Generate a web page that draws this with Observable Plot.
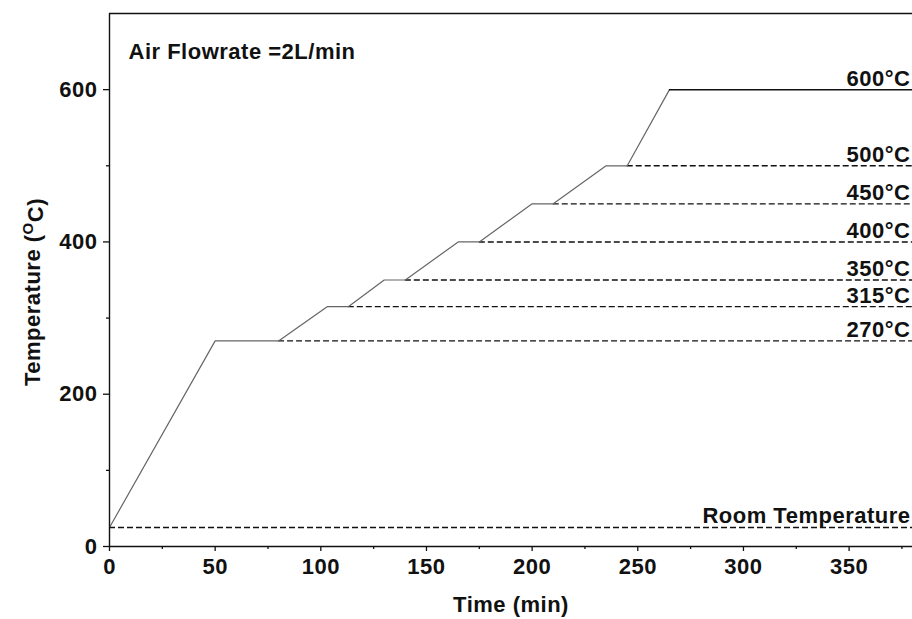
<!DOCTYPE html>
<html>
<head>
<meta charset="utf-8">
<script src="https://cdn.jsdelivr.net/npm/d3@7"></script>
<script src="https://cdn.jsdelivr.net/npm/@observablehq/plot@0.6"></script>
<style>
  body { margin: 0; background: #fff; }
  svg { display: block; }
</style>
</head>
<body>
<div id="chart"></div>
<script>
// Furnace temperature programme (air flowrate 2 L/min)
const profileTime = [0, 50, 80, 103, 113, 130, 140, 165, 175, 200, 210, 235, 245, 265];
const profileTemp = [25, 270, 270, 315, 315, 350, 350, 400, 400, 450, 450, 500, 500, 600];

// Final hold
const finalTemp = 600;
const finalStart = 265;

// Dashed reference levels and where each one starts
const levelTemps = [500, 450, 400, 350, 315, 270, 25];
const levelStarts = [245, 210, 175, 140, 113, 80, 0];

// Level labels on the right edge
const labelTexts = ["600°C", "500°C", "450°C", "400°C", "350°C", "315°C", "270°C", "Room Temperature"];
const labelTemps = [600, 500, 450, 400, 350, 315, 270, 25];

// Axis ticks
const xMajor = [0, 50, 100, 150, 200, 250, 300, 350];
const xMinor = [25, 75, 125, 175, 225, 275, 325, 375];
const yMajor = [0, 200, 400, 600];
const yMinor = [100, 300, 500];
const xMax = 380;
const yMax = 700;

const note = "Air Flowrate =2L/min";
const xTitle = "Time (min)";

const profile = profileTime.map((t, i) => ({time: t, temp: profileTemp[i]}));
const levels = levelTemps.map((v, i) => ({temp: v, start: levelStarts[i]}));
const labels = labelTexts.map((s, i) => ({text: s, temp: labelTemps[i]}));

const fontFamily = "'Liberation Sans', Arial, sans-serif";

const chart = Plot.plot({
  width: 912,
  height: 619,
  marginLeft: 109,
  marginRight: 0,
  marginTop: 13,
  marginBottom: 73,
  style: {background: "#fff", color: "#111", fontFamily, fontSize: "22px", fontWeight: "bold", letterSpacing: "0.5px"},
  x: {domain: [0, xMax]},
  y: {domain: [0, yMax]},
  marks: [
    Plot.ruleY(levels, {y: "temp", x1: "start", x2: xMax, stroke: "#111", strokeWidth: 1.4, strokeDasharray: "6,3"}),
    Plot.line(profile, {x: "time", y: "temp", stroke: "#666", strokeWidth: 1.2}),
    Plot.ruleY([finalTemp], {y: d => d, x1: finalStart, x2: xMax, stroke: "#111", strokeWidth: 1.5}),
    Plot.text(labels, {x: xMax, y: "temp", text: "text", textAnchor: "end", lineAnchor: "bottom", dx: -2, dy: -4, fill: "#111"}),
    Plot.text([note], {frameAnchor: "top-left", dx: 19, dy: 30, lineAnchor: "top", textAnchor: "start", fill: "#111"}),
    Plot.text([xTitle], {frameAnchor: "bottom", dy: 50, lineAnchor: "top", fill: "#111"}),
    Plot.ruleX([0], {stroke: "#111", strokeWidth: 1.4}),
    Plot.ruleY([0], {stroke: "#111", strokeWidth: 1.4}),
    Plot.ruleY([yMax], {stroke: "#111", strokeWidth: 1.4}),
    Plot.axisX(xMajor, {tickSize: 5, tickPadding: 7, label: null, stroke: "#111", strokeWidth: 1.3}),
    Plot.axisX(xMinor, {tickSize: 3, tickFormat: () => "", label: null, stroke: "#111", strokeWidth: 1.3}),
    Plot.axisY(yMajor, {tickSize: 6, tickPadding: 6, label: null, stroke: "#111", strokeWidth: 1.3}),
    Plot.axisY(yMinor, {tickSize: 3, tickFormat: () => "", label: null, stroke: "#111", strokeWidth: 1.3})
  ]
});

// Y-axis title with a superscript degree "O"
const svg = d3.select(chart);
const yTitle = svg.append("text")
  .attr("transform", "translate(40,292) rotate(-90)")
  .attr("text-anchor", "middle")
  .attr("fill", "#111")
  .style("font-family", fontFamily)
  .style("font-weight", "bold")
  .style("font-size", "22px")
  .style("letter-spacing", "0.5px");
yTitle.append("tspan").text("Temperature (");
yTitle.append("tspan").attr("dy", "-0.45em").style("font-size", "15px").text("O");
yTitle.append("tspan").attr("dy", "0.45em").text("C)");

document.getElementById("chart").appendChild(chart);
</script>
</body>
</html>
